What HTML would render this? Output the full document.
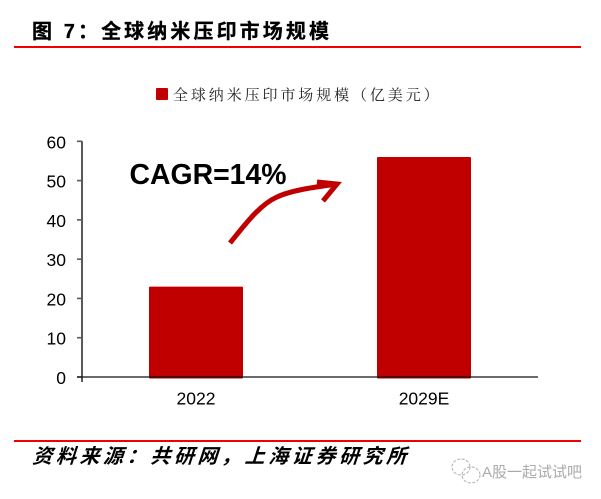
<!DOCTYPE html>
<html lang="zh">
<head>
<meta charset="utf-8">
<title>全球纳米压印市场规模</title>
<style>
html,body{margin:0;padding:0;background:#fff;}
#stage{position:relative;width:601px;height:499px;overflow:hidden;background:#fff;}
svg{position:absolute;left:0;top:0;}
</style>
</head>
<body>
<div id="stage">
<svg id="chart" width="601" height="499" viewBox="0 0 601 499" xmlns="http://www.w3.org/2000/svg">
  <text x="32" y="38" font-family="'Liberation Sans','Noto Sans CJK SC',sans-serif" font-size="20" font-weight="700" letter-spacing="3.1" fill="#000" stroke="#000" stroke-width="0.3">图 7：全球纳米压印市场规模</text>
  <rect x="14" y="46" width="567" height="2" fill="#f00000"></rect>
  <rect x="156" y="88" width="12" height="12" rx="1" fill="#c00000"></rect>
  <text x="173" y="100" font-family="'Liberation Sans','Noto Serif CJK SC',serif" font-size="15" letter-spacing="2.9" fill="#222">全球纳米压印市场规模（亿美元）</text>
  <g id="y-axis"></g>
  <g id="bars"></g>
  <g id="x-axis"></g>
  <text x="129.5" y="184" font-family="'Liberation Sans',sans-serif" font-size="28.4" font-weight="700" fill="#000">CAGR=14%</text>
  <path d="M230 243 C244 226 259 205 277 197 C292 190 315 187 338 184" fill="none" stroke="#c00000" stroke-width="5"></path>
  <path d="M317 182 L337 184 L323 201" fill="none" stroke="#c00000" stroke-width="5" stroke-linejoin="miter"></path>
  <rect x="14" y="440" width="567" height="2" fill="#f00000"></rect>
  <text x="0" y="0" transform="translate(32,463) skewX(-18)" font-family="'Liberation Sans','Noto Sans CJK SC',sans-serif" font-size="20" font-weight="700" letter-spacing="3.6" fill="#000">资料来源：共研网，上海证券研究所</text>
  <g fill="none" stroke="#bcbcbc" stroke-width="1.2" stroke-dasharray="3 1.5">
    <ellipse cx="461" cy="467" rx="9" ry="8"></ellipse>
    <ellipse cx="471" cy="475" rx="9" ry="8"></ellipse>
  </g>
  <text x="482" y="477" font-family="'Liberation Sans','Noto Sans CJK SC',sans-serif" font-size="15" fill="#aaaaaa">A股一起试试吧</text>
</svg>
</div>
<script>
const categories = ['2022', '2029E'];
const marketSize = [23, 56];
const yTicks = [0, 10, 20, 30, 40, 50, 60];
const NS = 'http://www.w3.org/2000/svg';
const plotLeft = 82, plotRight = 538, plotBottom = 377, plotTop = 141.3, yMax = 60, barWidth = 94;
function yScale(v) { return plotBottom - (v / yMax) * (plotBottom - plotTop); }
function xBand(i) { return plotLeft + (plotRight - plotLeft) * (i + 0.5) / categories.length; }
function make(parent, tag, attrs, text) {
  const el = document.createElementNS(NS, tag);
  for (const k in attrs) el.setAttribute(k, attrs[k]);
  if (text !== undefined) el.textContent = text;
  parent.appendChild(el);
  return el;
}
const yAxis = document.getElementById('y-axis');
const barsG = document.getElementById('bars');
const xAxis = document.getElementById('x-axis');
marketSize.forEach(function (v, i) {
  const r = make(barsG, 'rect', { x: xBand(i) - barWidth / 2, y: yScale(v), width: barWidth, height: plotBottom - yScale(v) + 1.5, rx: 1, fill: '#c00000' });
  
  
});
const yLine = make(yAxis, 'line', { x1: plotLeft, x2: plotLeft, y1: plotTop, y2: plotBottom + 5, stroke: '#595959', 'stroke-width': 2 });


yTicks.forEach(function (t) {
  const y = yScale(t);
  const tick = make(yAxis, 'line', { x1: plotLeft - 5, x2: plotLeft, y1: y, y2: y, stroke: '#595959', 'stroke-width': 1.6 });
  
  
  const lab = make(yAxis, 'text', { x: 66, y: y + 7, 'text-anchor': 'end', 'font-family': "'Liberation Sans',sans-serif", 'font-size': 17.5, fill: '#000' }, String(t));
  
  
});
const xLine = make(xAxis, 'line', { x1: plotLeft - 5, x2: plotRight, y1: plotBottom, y2: plotBottom, stroke: '#111', 'stroke-width': 1.2 });


categories.forEach(function (c, i) {
  const lab = make(xAxis, 'text', { x: xBand(i), y: 404.5, 'text-anchor': 'middle', 'font-family': "'Liberation Sans',sans-serif", 'font-size': 17.5, fill: '#000' }, c);
  
  
});
</script>
</body>
</html>
